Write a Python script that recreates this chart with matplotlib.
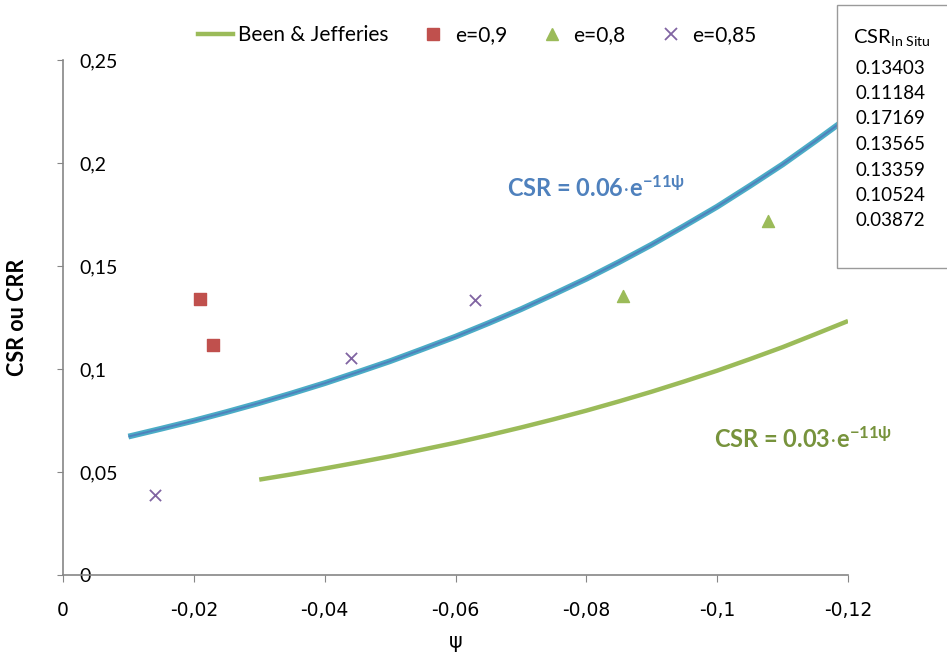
import matplotlib
matplotlib.use("Agg")
import matplotlib.pyplot as plt
from matplotlib.lines import Line2D
from matplotlib.patches import Rectangle

plt.rcParams["font.family"] = ["Lato", "DejaVu Sans"]
plt.rcParams["mathtext.fontset"] = "custom"
plt.rcParams["mathtext.rm"] = "Lato"
plt.rcParams["mathtext.bf"] = "Lato:bold"
plt.rcParams["mathtext.it"] = "Lato:italic"

# curves
psi_fit = [-0.010, -0.015, -0.020, -0.025, -0.030, -0.035, -0.040, -0.045, -0.050, -0.055, -0.060, -0.065,
           -0.070, -0.075, -0.080, -0.085, -0.090, -0.095, -0.100, -0.105, -0.110, -0.115, -0.120]
csr_fit = [0.0672, 0.0710, 0.0749, 0.0791, 0.0835, 0.0882, 0.0931, 0.0984, 0.1038, 0.1097, 0.1157, 0.1222,
           0.1290, 0.1363, 0.1438, 0.1519, 0.1604, 0.1695, 0.1788, 0.1889, 0.1993, 0.2106, 0.2222]
psi_bj = [-0.030, -0.035, -0.040, -0.045, -0.050, -0.055, -0.060, -0.065, -0.070, -0.075,
          -0.080, -0.085, -0.090, -0.095, -0.100, -0.105, -0.110, -0.115, -0.120]
csr_bj = [0.0463, 0.0489, 0.0517, 0.0546, 0.0576, 0.0609, 0.0642, 0.0678, 0.0716, 0.0756,
          0.0798, 0.0843, 0.0890, 0.0940, 0.0992, 0.1048, 0.1106, 0.1169, 0.1233]

# in-situ points
psi_e090 = [-0.0210, -0.0230]
csr_e090 = [0.13403, 0.11184]
psi_e080 = [-0.0856, -0.1078]
csr_e080 = [0.13565, 0.17169]
psi_e085 = [-0.0140, -0.0440, -0.0630]
csr_e085 = [0.03872, 0.10524, 0.13359]

table_vals = ["0.13403", "0.11184", "0.17169", "0.13565", "0.13359", "0.10524", "0.03872"]
xticks = [0, -0.02, -0.04, -0.06, -0.08, -0.1, -0.12]
xtick_labels = ["0", "-0,02", "-0,04", "-0,06", "-0,08", "-0,1", "-0,12"]
yticks = [0, 0.05, 0.1, 0.15, 0.2, 0.25]
ytick_labels = ["0", "0,05", "0,1", "0,15", "0,2", "0,25"]

BLUE = "#4F81BD"
TEAL = "#4BACC6"
GREEN = "#9BBB59"
DKGREEN = "#77933C"
RED = "#C0504D"
PURPLE = "#8064A2"
GRAY = "#868686"

fig = plt.figure(figsize=(9.47, 6.57), dpi=100)
ax = fig.add_axes([0.0665, 0.1248, 0.8290, 0.7839])

ax.plot(psi_fit, csr_fit, color=TEAL, lw=4.2, solid_capstyle="butt", solid_joinstyle="round", zorder=2)
ax.plot(psi_fit, csr_fit, color=BLUE, lw=1.4, solid_capstyle="butt", solid_joinstyle="round", zorder=3)
ax.plot(psi_bj, csr_bj, color=GREEN, lw=3.2, solid_capstyle="butt", solid_joinstyle="round", zorder=2)

ax.scatter(psi_e090, csr_e090, marker="s", s=75, color=RED, zorder=4)
ax.scatter(psi_e080, csr_e080, marker="^", s=75, color=GREEN, zorder=4)
ax.scatter(psi_e085, csr_e085, marker="x", s=65, color=PURPLE, linewidths=1.3, zorder=4)

ax.set_xlim(0, -0.12)
ax.set_ylim(0, 0.25)
ax.set_xticks(xticks)
ax.set_xticklabels(xtick_labels, family="DejaVu Sans", fontsize=13.5)
ax.set_yticks(yticks)
ax.set_yticklabels(ytick_labels, fontsize=14, ha="left")

for s in ["top", "right"]:
    ax.spines[s].set_visible(False)
for s in ["left", "bottom"]:
    ax.spines[s].set_color(GRAY)
    ax.spines[s].set_linewidth(1.2)
ax.tick_params(axis="x", direction="out", length=5, color=GRAY, pad=14)
ax.tick_params(axis="y", direction="out", length=4, color=GRAY, pad=-16)

ax.set_xlabel("ψ", fontsize=15, family="DejaVu Sans", labelpad=8)
ax.set_ylabel("CSR ou CRR", fontsize=15.5, fontweight="bold", labelpad=21)

ax.text(-0.0815, 0.1879, r"CSR = 0.06$\mathbf{\cdot}$e$^{\mathbf{-11\psi}}$", color=BLUE,
        fontsize=17, fontweight="bold", ha="center", va="center")
ax.text(-0.1131, 0.0665, r"CSR = 0.03$\mathbf{\cdot}$e$^{\mathbf{-11\psi}}$", color=DKGREEN,
        fontsize=17, fontweight="bold", ha="center", va="center")

handles = [
    Line2D([], [], color=GREEN, lw=3.2),
    Line2D([], [], color=RED, marker="s", ls="none", markersize=8),
    Line2D([], [], color=GREEN, marker="^", ls="none", markersize=8),
    Line2D([], [], color=PURPLE, marker="x", ls="none", markersize=8, mew=1.3),
]
labels = ["Been & Jefferies", "e=0,9", "e=0,8", "e=0,85"]
fig.legend(handles, labels, loc="center", bbox_to_anchor=(0.504, 0.947), ncol=4,
           frameon=False, fontsize=15, handlelength=1.7, columnspacing=1.3, handletextpad=0.2)

# in-situ table box
fig.patches.append(Rectangle((837 / 947, 1 - 268 / 657), 0.2, 263 / 657,
                             transform=fig.transFigure, facecolor="white",
                             edgecolor="#9A9A9A", lw=1.0, zorder=5))
fig.text(892 / 947, 1 - 37 / 657, r"CSR$_{\mathrm{In\ Situ}}$", fontsize=14.5,
         ha="center", va="center", zorder=6)
for i, v in enumerate(table_vals):
    fig.text(890 / 947, 1 - (68 + i * 25.5) / 657, v, fontsize=13.5,
             ha="center", va="center", zorder=6)

plt.savefig("out.png", dpi=100)
